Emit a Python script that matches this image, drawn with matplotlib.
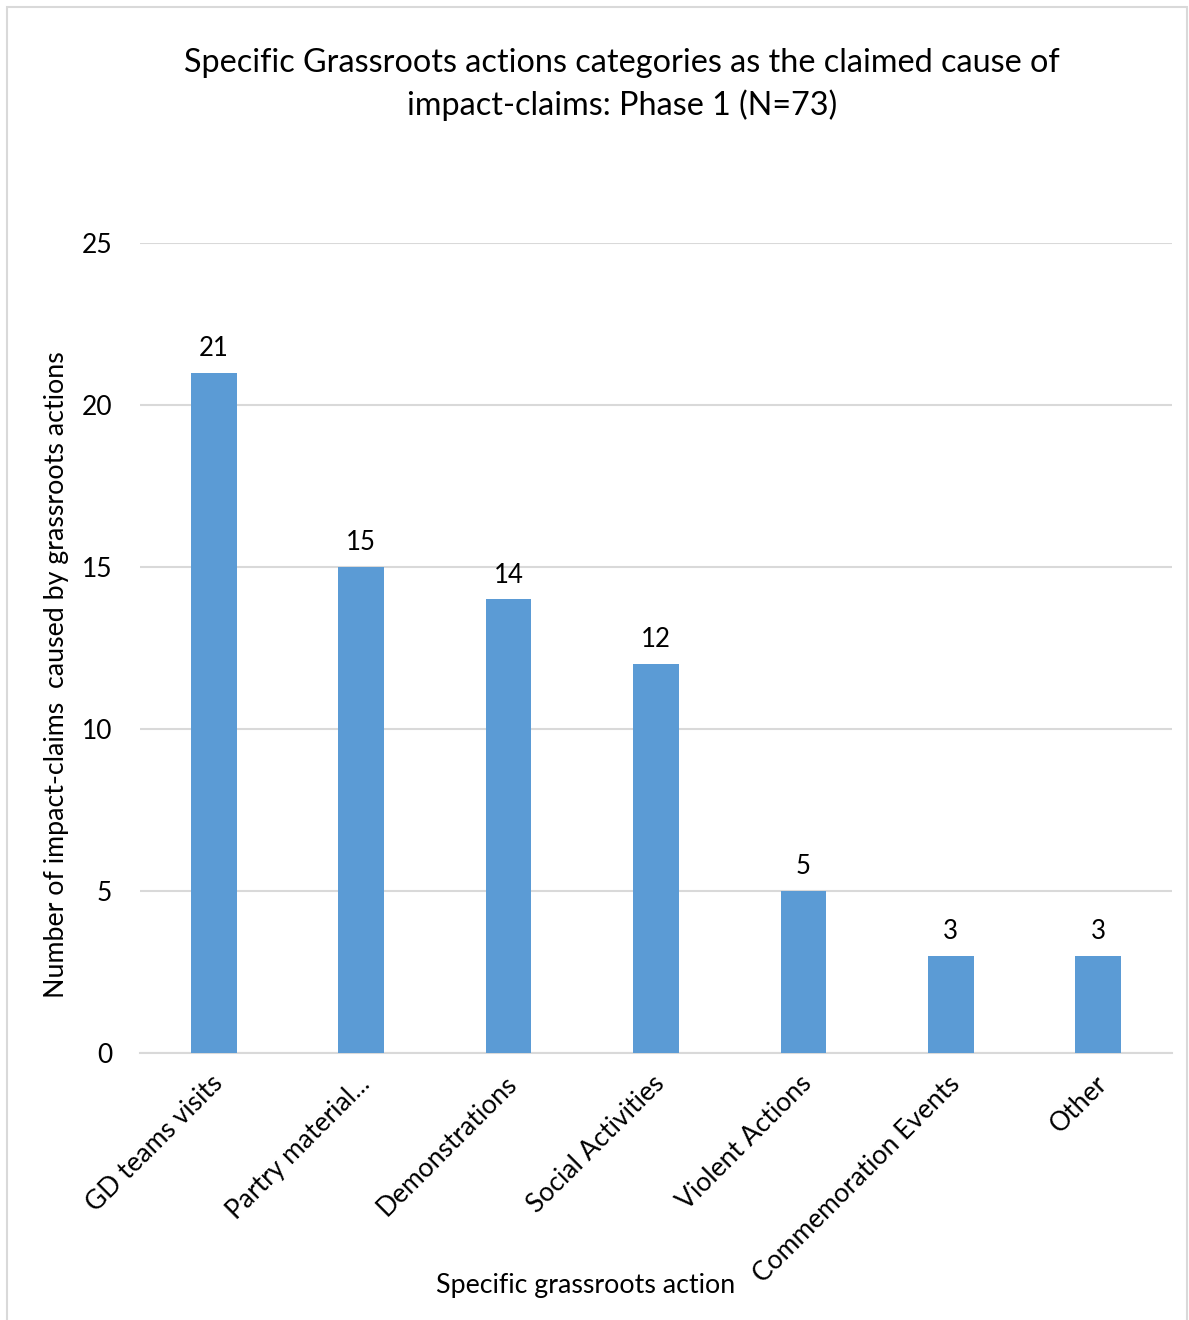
import matplotlib
matplotlib.use("Agg")
import matplotlib.pyplot as plt
from matplotlib.patches import Rectangle

categories = ["GD teams visits", "Partry material...", "Demonstrations", "Social Activities",
              "Violent Actions", "Commemoration Events", "Other"]
values = [21, 15, 14, 12, 5, 3, 3]
yticks = [0, 5, 10, 15, 20, 25]

plt.rcParams['font.family'] = ['Lato', 'DejaVu Sans']

W, H = 1189, 1320
fig = plt.figure(figsize=(W/100, H/100), dpi=100)
fig.patch.set_facecolor("white")
fig.add_artist(Rectangle((7/W, -0.01), (1187-7)/W, (1320-7)/H + 0.01, transform=fig.transFigure,
                         fill=False, edgecolor="#d9d9d9", linewidth=1.5))

ax = fig.add_axes([140/W, 1 - 1053/H, (1172-140)/W, (1053-243)/H])
x = list(range(len(categories)))
ax.bar(x, values, width=0.31, color="#5b9bd5", zorder=3)
for xi, v in zip(x, values):
    ax.annotate(str(v), (xi, v), xytext=(0, 8.5), textcoords="offset points",
                ha="center", va="bottom", fontsize=18.5, color="#000000")
ax.set_xlim(-0.5, len(categories) - 0.5)
ax.set_ylim(0, 25)
ax.set_yticks(yticks)
ax.set_yticklabels([str(t) for t in yticks], fontsize=19)
ax.yaxis.grid(True, color="#d9d9d9", linewidth=1.5, zorder=0)
ax.set_axisbelow(True)
for s in ["top", "right", "left"]:
    ax.spines[s].set_visible(False)
ax.spines["bottom"].set_color("#d9d9d9")
ax.spines["bottom"].set_linewidth(1.5)
ax.tick_params(axis="both", length=0)
ax.tick_params(axis="y", pad=20)
ax.set_xticks(x)
ax.set_xticklabels(categories, rotation=45, ha="right", rotation_mode="anchor", fontsize=19)
for lbl in ax.get_xticklabels():
    lbl.set_x(lbl.get_position()[0])
ax.tick_params(axis="x", pad=13)
import matplotlib.transforms as mtransforms
offset = mtransforms.ScaledTranslation(-4/100, 0, fig.dpi_scale_trans)
for lbl in ax.get_xticklabels():
    lbl.set_transform(lbl.get_transform() + offset)

fig.text(622/W, 1 - 63/H, "Specific Grassroots actions categories as the claimed cause of",
         ha="center", va="center", fontsize=23.3)
fig.text(622/W, 1 - 105/H, "impact-claims: Phase 1 (N=73)", ha="center", va="center", fontsize=23.3)
fig.text(586/W, 1 - 1286/H, "Specific grassroots action", ha="center", va="center", fontsize=19.3)
fig.text(57/W, 1 - 675/H, "Number of impact-claims  caused by grassroots actions", ha="center",
         va="center", rotation=90, fontsize=19.3)

fig.savefig("out.png", dpi=100, facecolor="white")
